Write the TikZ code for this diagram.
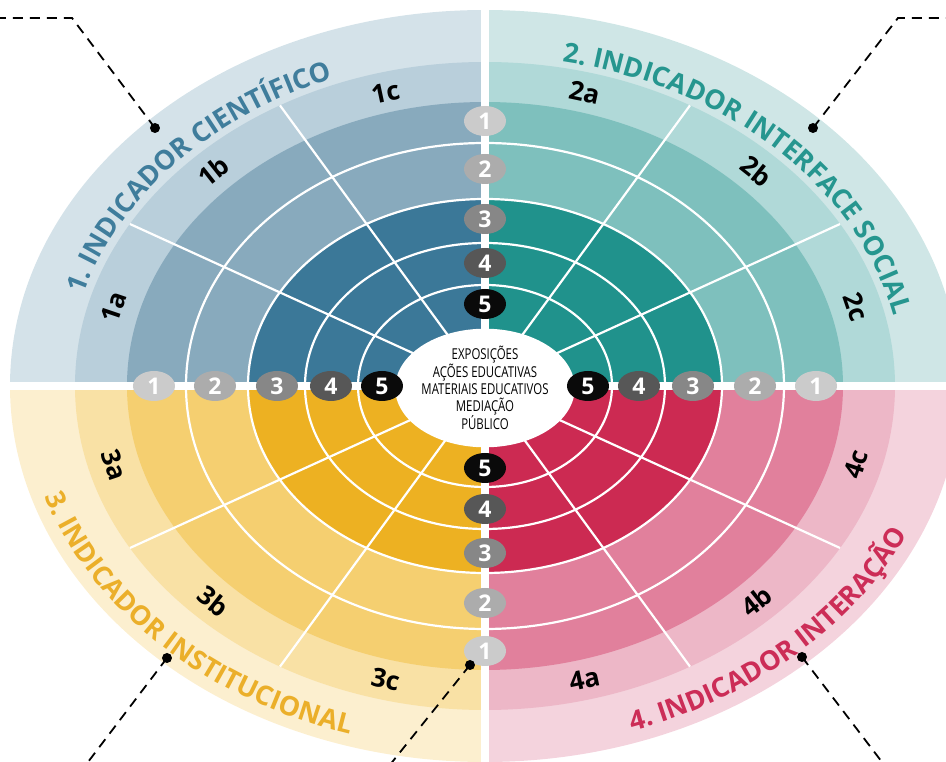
\documentclass[tikz,border=0pt]{standalone}
\usepackage{fontspec}
\setmainfont{Open Sans}
\newfontfamily\narrowfont[FakeStretch=0.76]{Open Sans}
\usetikzlibrary{decorations.text,shapes.geometric}

% quadrant palettes: T = title band, L = label band, M = rings 1-2, D = rings 3-5, X = title text
\definecolor{bluT}{HTML}{D4E2E9}
\definecolor{bluL}{HTML}{B9CFDB}
\definecolor{bluM}{HTML}{88AABD}
\definecolor{bluD}{HTML}{3B7898}
\definecolor{bluX}{HTML}{3F7D9C}
\definecolor{tealT}{HTML}{CFE6E6}
\definecolor{tealL}{HTML}{B0D9D8}
\definecolor{tealM}{HTML}{7EC0BD}
\definecolor{tealD}{HTML}{20928C}
\definecolor{tealX}{HTML}{26968F}
\definecolor{yelT}{HTML}{FCEFCF}
\definecolor{yelL}{HTML}{F9E1A5}
\definecolor{yelM}{HTML}{F5CF70}
\definecolor{yelD}{HTML}{EDB122}
\definecolor{yelX}{HTML}{EBAF2A}
\definecolor{pinkT}{HTML}{F4D3DD}
\definecolor{pinkL}{HTML}{EDB7C7}
\definecolor{pinkM}{HTML}{E1809C}
\definecolor{pinkD}{HTML}{CC2A52}
\definecolor{pinkX}{HTML}{CC2D57}
% level badges
\definecolor{lvA}{HTML}{CBCBCB}
\definecolor{lvB}{HTML}{ACACAC}
\definecolor{lvC}{HTML}{878787}
\definecolor{lvD}{HTML}{575757}
\definecolor{lvE}{HTML}{0A0A0A}

\newcommand\titlefont{\fontsize{27}{27}\selectfont\bfseries}

\begin{document}
\begin{tikzpicture}[x=1pt,y=1pt,
  ringline/.style={white, line width=2.2pt},
  spoke/.style={white, line width=2.2pt},
  gap/.style={white, line width=8pt},
  badge/.style={ellipse, minimum width=42pt, minimum height=30pt, inner sep=0pt,
    text=white, font=\fontsize{23}{23}\selectfont\bfseries},
  sublabel/.style={inner sep=0pt, font=\fontsize{26}{26}\selectfont\bfseries},
  callout/.style={black, line width=1.8pt, dash pattern=on 10pt off 7pt},
  calloutdot/.style={black}]
\useasboundingbox (-485,-376) rectangle (461,386);
\clip (-485,-376) rectangle (461,386);

% quarter bands of each indicator
\foreach \s/\cT/\cL/\cM/\cD in {90/bluT/bluL/bluM/bluD, 0/tealT/tealL/tealM/tealD,
    180/yelT/yelL/yelM/yelD, 270/pinkT/pinkL/pinkM/pinkD}{
  \fill[\cT] (0,0) -- (\s:475 and 376) arc[start angle=\s, delta angle=90, x radius=475, y radius=376] -- cycle;
  \fill[\cL] (0,0) -- (\s:410 and 324) arc[start angle=\s, delta angle=90, x radius=410, y radius=324] -- cycle;
  \fill[\cM] (0,0) -- (\s:358 and 284) arc[start angle=\s, delta angle=90, x radius=358, y radius=284] -- cycle;
  \fill[\cD] (0,0) -- (\s:237 and 187) arc[start angle=\s, delta angle=90, x radius=237, y radius=187] -- cycle;
}

% level rings
\draw[ringline] (0,0) ellipse[x radius=299, y radius=243];
\draw[ringline] (0,0) ellipse[x radius=237, y radius=187];
\draw[ringline] (0,0) ellipse[x radius=180, y radius=143];
\draw[ringline] (0,0) ellipse[x radius=127, y radius=101];

% sector spokes
\foreach \t in {30,60,120,150,210,240,300,330}
  \draw[spoke] (0,0) -- (\t:410 and 324);

% white cross between the indicators
\draw[gap] (-490,0) -- (470,0);
\draw[gap] (0,-380) -- (0,390);

% hub
\node (hub) [ellipse, fill=white, minimum width=156pt, minimum height=114pt, inner sep=0pt,
  align=center, font=\narrowfont\fontsize{15}{16.8}\selectfont] at (0,-2)
  {EXPOSIÇÕES\\AÇÕES EDUCATIVAS\\MATERIAIS EDUCATIVOS\\MEDIAÇÃO\\PÚBLICO};

% level badges on the axes
\foreach \n/\h/\v/\c in {1/331/265/lvA, 2/270/217/lvB, 3/208/167/lvC, 4/154/123/lvD, 5/103/82/lvE}{
  \node[badge, fill=\c] (w\n) at (-\h,0) {\n};
  \node[badge, fill=\c] (e\n) at (\h,0) {\n};
  \node[badge, fill=\c] (n\n) at (0,\v) {\n};
  \node[badge, fill=\c] (s\n) at (0,-\v) {\n};
}

% sub-indicator labels
\foreach \t/\r/\l in {165/71.3/1a, 135/38.4/1b, 105/12/1c,
    75/-12/2a, 45/-38.4/2b, 15/-71.3/2c,
    195/-71.3/3a, 225/-38.4/3b, 255/-12/3c,
    285/12/4a, 315/38.4/4b, 345/71.3/4c}
  \node[sublabel, rotate=\r] (lb\l) at (\t:384 and 304) {\l};

% indicator titles along the outer band
\path[decorate, decoration={text along path, text align=center, text color=bluX,
    text={|\titlefont|1. INDICADOR CIENTÍFICO}}]
  (178:418 and 330) arc[start angle=178, end angle=100, x radius=418, y radius=330];
\path[decorate, decoration={text along path, text align=center, text color=tealX,
    text={|\titlefont|2. INDICADOR INTERFACE SOCIAL}}]
  (86:418 and 330) arc[start angle=86, end angle=4, x radius=418, y radius=330];
\path[decorate, decoration={text along path, text align=center, text color=yelX,
    text={|\titlefont|3. INDICADOR INSTITUCIONAL}}]
  (184:462 and 364) arc[start angle=184, end angle=264, x radius=462, y radius=364];
\path[decorate, decoration={text along path, text align=center, text color=pinkX,
    text={|\titlefont|4. INDICADOR INTERAÇÃO}}]
  (274:462 and 364) arc[start angle=274, end angle=354, x radius=462, y radius=364];

% dashed callouts
\coordinate (dA) at (-330,258);  \coordinate (kA) at (-413,368); \coordinate (eA) at (-490,368);
\coordinate (dB) at (328,258);   \coordinate (kB) at (413,368);  \coordinate (eB) at (470,368);
\coordinate (dC) at (-318,-272); \coordinate (eC) at (-400,-380);
\coordinate (dD) at (-15,-279);  \coordinate (eD) at (-96,-380);
\coordinate (dE) at (317,-271);  \coordinate (eE) at (400,-380);
\draw[callout] (dA) -- (kA) -- (eA);
\draw[callout] (dB) -- (kB) -- (eB);
\draw[callout] (dC) -- (eC);
\draw[callout] (dD) -- (eD);
\draw[callout] (dE) -- (eE);
\foreach \d in {dA,dB,dC,dD,dE}
  \fill[calloutdot] (\d) circle (5);
\end{tikzpicture}
\end{document}
